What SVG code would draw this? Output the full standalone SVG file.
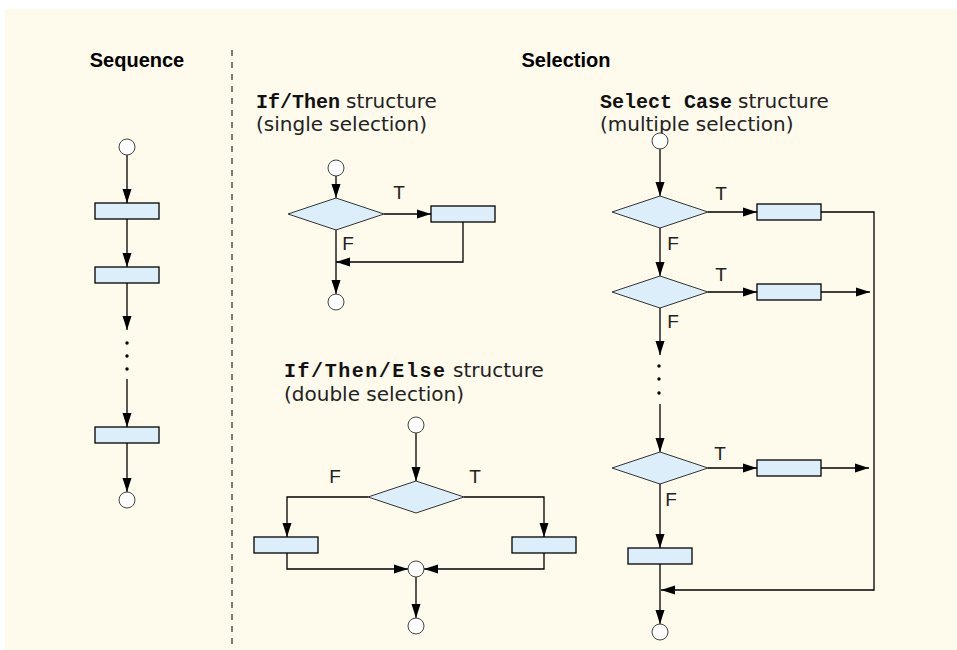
<svg xmlns="http://www.w3.org/2000/svg" width="957" height="650" viewBox="0 0 957 650">
<defs>
<marker id="ah" markerUnits="userSpaceOnUse" markerWidth="14" markerHeight="10" refX="14" refY="5" orient="auto"><path d="M0,0.5 L14,5 L0,9.5 z" fill="#000"/></marker>
<style>
.bg{fill:#FEFAEC}
.ln{fill:none;stroke:#000;stroke-width:1.3}
.ar{marker-end:url(#ah)}
.box{fill:#DCEEF9;stroke:#000;stroke-width:1.3}
.dia{fill:#DCEEF9;stroke:#333;stroke-width:1}
.st{fill:#fff;stroke:#444;stroke-width:1}
.dot{fill:#000}
.head{font-family:"Liberation Sans",Arial,sans-serif;font-weight:bold;font-size:20px;fill:#000}
.body{font-family:"DejaVu Sans","Liberation Sans",sans-serif;font-size:20px;fill:#222}
.mono{font-family:"Liberation Mono","Courier New",monospace;font-weight:bold;font-size:20px;fill:#111}
.lbl{font-family:"Liberation Sans",Arial,sans-serif;font-size:19px;fill:#222;text-anchor:middle}
</style>
</defs>
<rect class="bg" x="5" y="9" width="952" height="641"/>
<line x1="232" y1="50" x2="232" y2="650" stroke="#000" stroke-width="1" stroke-dasharray="6,6"/>

<g id="titles">
<text class="head" x="137" y="67" text-anchor="middle">Sequence</text>
<text class="head" x="566" y="67" text-anchor="middle">Selection</text>
<text class="mono" x="256" y="108">If/Then</text>
<text class="body" x="346" y="108">structure</text>
<text class="body" x="256" y="131">(single selection)</text>
<text class="mono" x="600" y="108">Select Case</text>
<text class="body" x="738" y="108">structure</text>
<text class="body" x="600" y="131">(multiple selection)</text>
<text class="mono" x="284" y="377" textLength="161" lengthAdjust="spacing">If/Then/Else</text>
<text class="body" x="453" y="377">structure</text>
<text class="body" x="284" y="401">(double selection)</text>
</g>

<g id="connectors">
<line class="ln ar" x1="127" y1="155" x2="127" y2="203"/>
<line class="ln ar" x1="127" y1="219" x2="127" y2="267"/>
<line class="ln ar" x1="127" y1="283" x2="127" y2="330"/>
<line class="ln ar" x1="127" y1="379" x2="127" y2="427"/>
<line class="ln ar" x1="127" y1="443" x2="127" y2="492"/>

<line class="ln ar" x1="336" y1="176" x2="336" y2="198"/>
<line class="ln ar" x1="384" y1="214" x2="431" y2="214"/>
<polyline class="ln ar" points="463,222 463,262 336,262"/>
<line class="ln ar" x1="336" y1="230" x2="336" y2="294"/>

<line class="ln ar" x1="416" y1="433" x2="416" y2="481"/>
<polyline class="ln ar" points="368,497 287,497 287,537"/>
<polyline class="ln ar" points="464,497 544,497 544,537"/>
<polyline class="ln ar" points="287,553 287,569 408,569"/>
<polyline class="ln ar" points="544,553 544,569 424,569"/>
<line class="ln ar" x1="416" y1="577" x2="416" y2="618"/>

<line class="ln ar" x1="660" y1="148" x2="660" y2="196"/>
<line class="ln ar" x1="708" y1="212" x2="757" y2="212"/>
<polyline class="ln ar" points="821,212 874,212 874,590 661,590"/>
<line class="ln ar" x1="660" y1="228" x2="660" y2="276"/>
<line class="ln ar" x1="708" y1="292" x2="757" y2="292"/>
<line class="ln ar" x1="821" y1="292" x2="870" y2="292"/>
<line class="ln ar" x1="660" y1="308" x2="660" y2="355"/>
<line class="ln ar" x1="660" y1="404" x2="660" y2="452"/>
<line class="ln ar" x1="708" y1="468" x2="757" y2="468"/>
<line class="ln ar" x1="821" y1="468" x2="869" y2="468"/>
<line class="ln ar" x1="660" y1="484" x2="660" y2="548"/>
<line class="ln ar" x1="660" y1="564" x2="660" y2="624"/>
</g>

<g id="labels">
<text class="lbl" x="399" y="199">T</text>
<text class="lbl" x="348" y="250">F</text>
<text class="lbl" x="335" y="483">F</text>
<text class="lbl" x="475" y="483">T</text>
<text class="lbl" x="721" y="200">T</text>
<text class="lbl" x="673" y="250">F</text>
<text class="lbl" x="721" y="281">T</text>
<text class="lbl" x="673" y="328">F</text>
<text class="lbl" x="720" y="460">T</text>
<text class="lbl" x="671" y="506">F</text>
</g>

<g id="seq-start"><circle class="st" cx="127" cy="147" r="8"/></g>
<g id="seq-a1"><rect class="box" x="95" y="203" width="64" height="16"/></g>
<g id="seq-a2"><rect class="box" x="95" y="267" width="64" height="16"/></g>
<g id="seq-dots"><circle class="dot" cx="127" cy="343" r="1.7"/><circle class="dot" cx="127" cy="356" r="1.7"/><circle class="dot" cx="127" cy="369" r="1.7"/></g>
<g id="seq-a3"><rect class="box" x="95" y="427" width="64" height="16"/></g>
<g id="seq-end"><circle class="st" cx="127" cy="500" r="8"/></g>

<g id="if-start"><circle class="st" cx="336" cy="168" r="8"/></g>
<g id="if-dec"><polygon class="dia" points="288,214 336,198 384,214 336,230"/></g>
<g id="if-act"><rect class="box" x="431" y="206" width="64" height="16"/></g>
<g id="if-end"><circle class="st" cx="336" cy="302" r="8"/></g>

<g id="ife-start"><circle class="st" cx="416" cy="425" r="8"/></g>
<g id="ife-dec"><polygon class="dia" points="368,497 416,481 464,497 416,513"/></g>
<g id="ife-f"><rect class="box" x="254" y="537" width="64" height="16"/></g>
<g id="ife-t"><rect class="box" x="512" y="537" width="64" height="16"/></g>
<g id="ife-merge"><circle class="st" cx="416" cy="569" r="8"/></g>
<g id="ife-end"><circle class="st" cx="416" cy="626" r="8"/></g>

<g id="sc-start"><circle class="st" cx="660" cy="141" r="8"/></g>
<g id="sc-dec1"><polygon class="dia" points="612,212 660,196 708,212 660,228"/></g>
<g id="sc-act1"><rect class="box" x="757" y="204" width="64" height="16"/></g>
<g id="sc-dec2"><polygon class="dia" points="612,292 660,276 708,292 660,308"/></g>
<g id="sc-act2"><rect class="box" x="757" y="284" width="64" height="16"/></g>
<g id="sc-dots"><circle class="dot" cx="659" cy="366" r="1.7"/><circle class="dot" cx="659" cy="379" r="1.7"/><circle class="dot" cx="659" cy="393" r="1.7"/></g>
<g id="sc-dec3"><polygon class="dia" points="612,468 660,452 708,468 660,484"/></g>
<g id="sc-act3"><rect class="box" x="757" y="460" width="64" height="16"/></g>
<g id="sc-default"><rect class="box" x="628" y="548" width="64" height="16"/></g>
<g id="sc-end"><circle class="st" cx="660" cy="632" r="8"/></g>
</svg>
